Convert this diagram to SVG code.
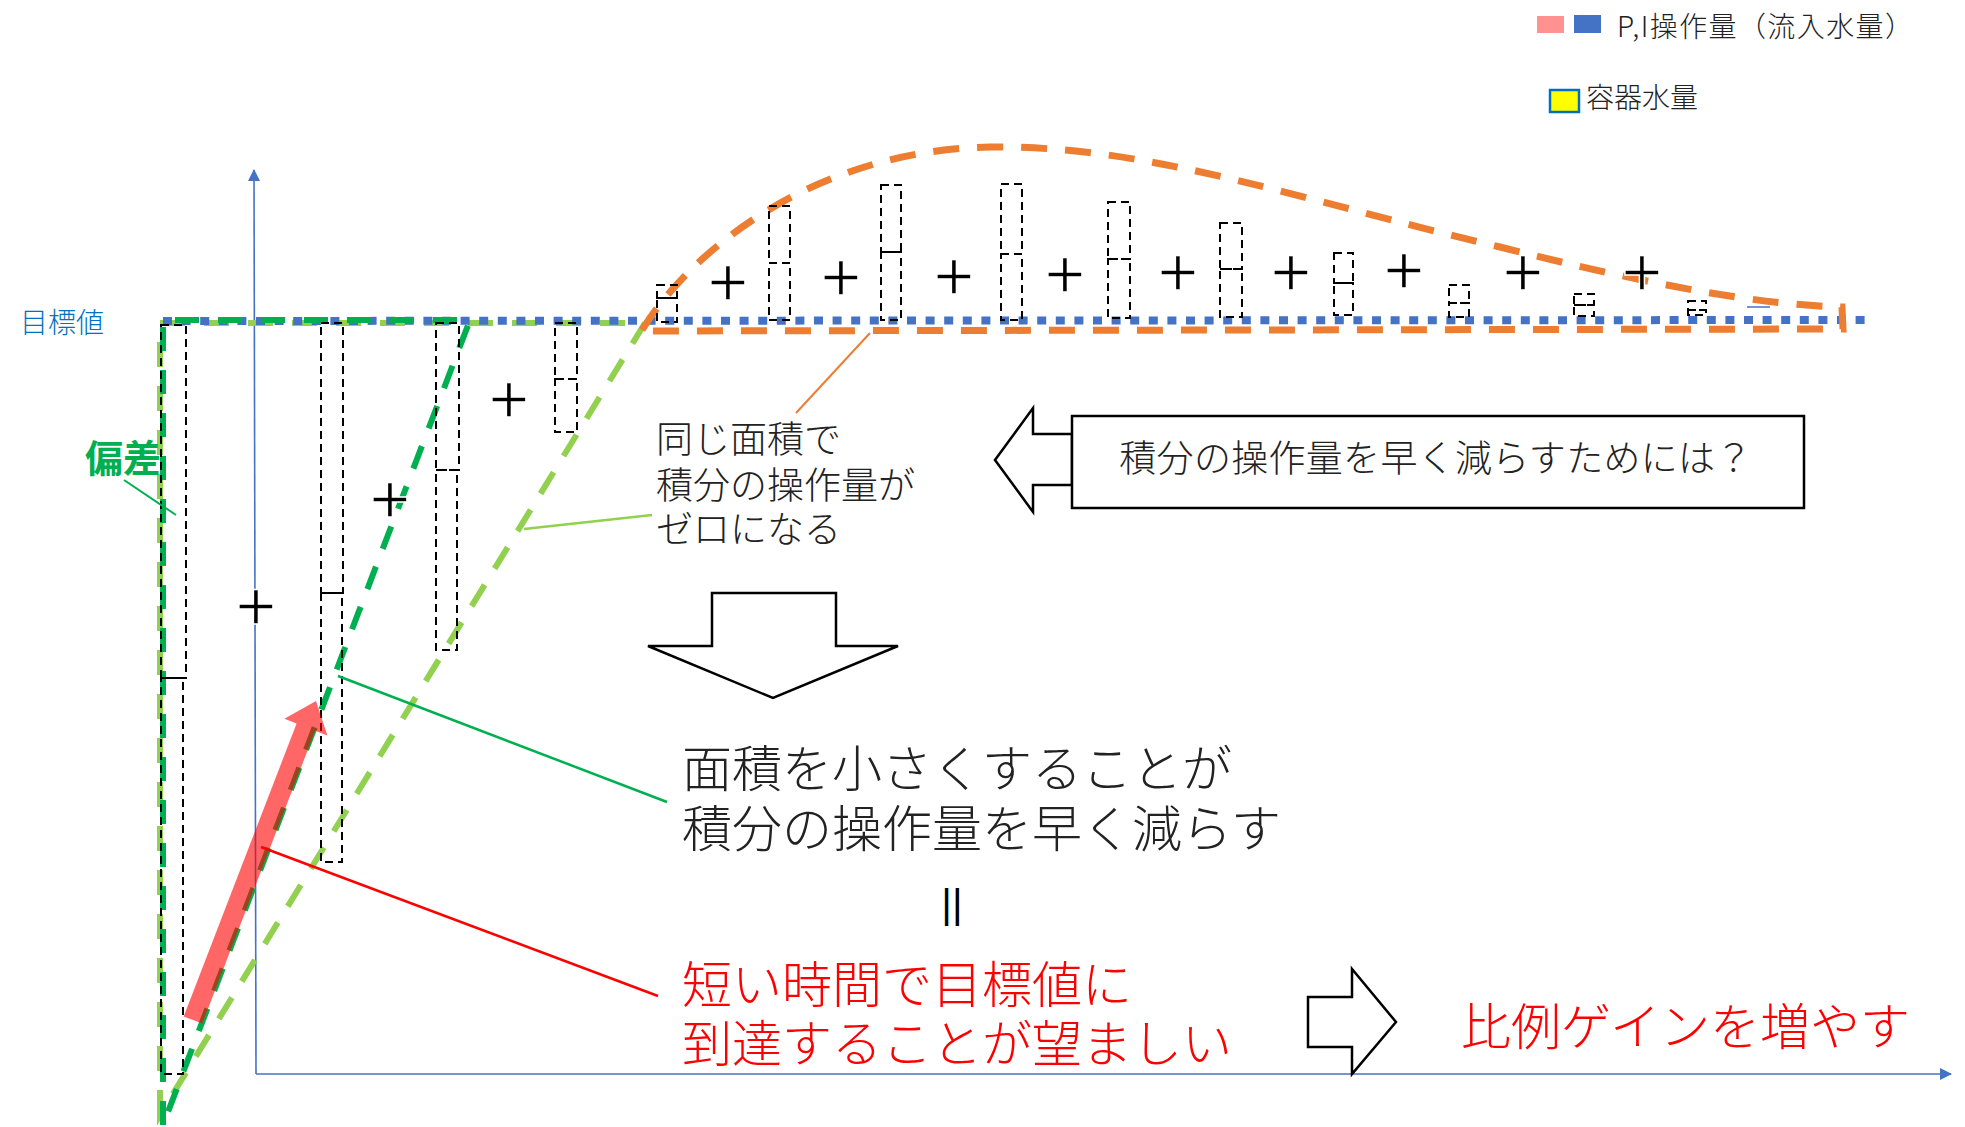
<svg xmlns="http://www.w3.org/2000/svg" width="1965" height="1127" viewBox="0 0 1965 1127">
<style>
.jp{font-family:"Noto Sans CJK JP","Noto Sans CJK SC",sans-serif;font-weight:300;}
.plus{font-family:"Liberation Sans",Arial,sans-serif;font-size:70px;fill:#000;stroke:#fff;stroke-width:1.4px;text-anchor:middle;}
.bar{fill:none;stroke:#000;stroke-width:2;stroke-dasharray:8 5;}
.ax{stroke:#4472C4;stroke-width:1.6;fill:none;}
.hollow{fill:#fff;stroke:#000;stroke-width:2.5;stroke-linejoin:miter;}
</style>
<defs>
<marker id="axhead" viewBox="0 0 12 12" refX="11" refY="6" markerWidth="12" markerHeight="12" markerUnits="userSpaceOnUse" orient="auto">
<path d="M0,0 L12,6 L0,12 Z" fill="#4472C4"/>
</marker>
</defs>
<rect width="1965" height="1127" fill="#fff"/>

<g id="legend">
<rect x="1537" y="16" width="27" height="17" fill="#FF9191"/>
<rect x="1574" y="15" width="27" height="18" fill="#4472C4"/>
<text class="jp" x="1617" y="37" font-size="28" letter-spacing="1.4" fill="#222">P,I操作量（流入水量）</text>
<rect x="1550" y="90" width="29" height="22" fill="#FFFF00" stroke="#0070C0" stroke-width="2.5"/>
<text class="jp" x="1586" y="108" font-size="28" fill="#222">容器水量</text>
</g>

<g id="axes">
<line class="ax" x1="256" y1="1074" x2="254" y2="170" marker-end="url(#axhead)"/>
<line class="ax" x1="256" y1="1074" x2="1951" y2="1074" marker-end="url(#axhead)"/>
</g>

<g id="areas">
<polygon id="container-level" points="160,1115 160,323 645,323" fill="none" stroke="#92D050" stroke-width="6" stroke-dasharray="25 19"/>
<line id="target-line" x1="163" y1="321" x2="1868" y2="320" stroke="#4472C4" stroke-width="8" stroke-dasharray="9 9.6"/>
<polygon id="deviation" points="163,1125 163,320 470,320" fill="none" stroke="#00B050" stroke-width="6" stroke-dasharray="24 19"/>
<path id="overshoot" d="M642,330 C695,245 820,150 990,147 C1150,145 1300,200 1500,247 C1650,285 1760,305 1842,307 L1843,329 L642,331 Z" fill="none" stroke="#ED7D31" stroke-width="7" stroke-dasharray="26 18"/>
<line x1="1747" y1="307" x2="1770" y2="307" stroke="#4472C4" stroke-width="1.5"/>
</g>

<g id="bars">
<rect class="bar" x="161" y="325" width="25" height="353"/><rect class="bar" x="161" y="678" width="22" height="396"/>
<rect class="bar" x="321" y="323" width="22" height="270"/><rect class="bar" x="321" y="593" width="21" height="269"/>
<rect class="bar" x="436" y="323" width="23" height="147"/><rect class="bar" x="436" y="470" width="21" height="180"/>
<rect class="bar" x="555" y="323" width="22" height="56"/><rect class="bar" x="555" y="379" width="22" height="53"/>
<rect class="bar" x="657" y="285" width="20" height="13"/><rect class="bar" x="657" y="298" width="20" height="24"/>
<rect class="bar" x="769" y="206" width="21" height="57"/><rect class="bar" x="769" y="263" width="21" height="57"/>
<rect class="bar" x="881" y="185" width="20" height="67"/><rect class="bar" x="881" y="252" width="20" height="68"/>
<rect class="bar" x="1001" y="184" width="21" height="70"/><rect class="bar" x="1001" y="254" width="21" height="66"/>
<rect class="bar" x="1108" y="202" width="22" height="57"/><rect class="bar" x="1108" y="259" width="22" height="59"/>
<rect class="bar" x="1220" y="223" width="22" height="46"/><rect class="bar" x="1220" y="269" width="22" height="48"/>
<rect class="bar" x="1334" y="253" width="19" height="30"/><rect class="bar" x="1334" y="283" width="19" height="32"/>
<rect class="bar" x="1449" y="285" width="20" height="18"/><rect class="bar" x="1449" y="303" width="20" height="14"/>
<rect class="bar" x="1574" y="294" width="20" height="11"/><rect class="bar" x="1574" y="305" width="20" height="11"/>
<rect class="bar" x="1688" y="301" width="18" height="9"/><rect class="bar" x="1688" y="310" width="18" height="5"/>
</g>

<g id="plus-signs">
<text class="plus" x="256" y="630">+</text>
<text class="plus" x="390" y="523">+</text>
<text class="plus" x="509" y="423">+</text>
<text class="plus" x="728" y="306">+</text>
<text class="plus" x="841" y="301">+</text>
<text class="plus" x="954" y="300">+</text>
<text class="plus" x="1065" y="298">+</text>
<text class="plus" x="1178" y="296">+</text>
<text class="plus" x="1291" y="296">+</text>
<text class="plus" x="1404" y="294">+</text>
<text class="plus" x="1523" y="296">+</text>
<text class="plus" x="1642" y="296">+</text>
</g>

<g id="red-arrow">
<polygon points="202.3,1023.6 315.2,730.7 327.4,735.4 316,701 284.4,718.8 296.6,723.5 183.7,1016.4" fill="#FF0000" fill-opacity="0.6"/>
</g>

<g id="connectors">
<line x1="124" y1="480" x2="176" y2="515" stroke="#00B050" stroke-width="2"/>
<line x1="796" y1="413" x2="870" y2="333" stroke="#ED7D31" stroke-width="2"/>
<line x1="524" y1="529" x2="652" y2="515" stroke="#92D050" stroke-width="2.5"/>
<line x1="338" y1="676" x2="667" y2="802" stroke="#00B050" stroke-width="2.5"/>
<line x1="261" y1="847" x2="658" y2="996" stroke="#FF0000" stroke-width="2.5"/>
</g>

<g id="label-target">
<text class="jp" x="20" y="333" font-size="28" fill="#0070C0">目標値</text>
</g>
<g id="label-deviation">
<text x="85" y="472" font-size="38" font-weight="bold" fill="#00B050" font-family="Noto Sans CJK JP, Noto Sans CJK SC, sans-serif">偏差</text>
</g>
<g id="label-same-area">
<text class="jp" font-size="37" fill="#222"><tspan x="656" y="453">同じ面積で</tspan><tspan x="656" y="499">積分の操作量が</tspan><tspan x="656" y="543">ゼロになる</tspan></text>
</g>

<g id="question-box">
<polygon class="hollow" points="1072,434 1033,434 1033,408 995,460 1033,512 1033,485 1072,485"/>
<rect x="1072" y="416" width="732" height="92" fill="#fff" stroke="#000" stroke-width="2.5"/>
<text class="jp" x="1436" y="472" font-size="37" letter-spacing="0.3" fill="#222" text-anchor="middle">積分の操作量を早く減らすためには？</text>
</g>

<g id="down-arrow">
<polygon class="hollow" points="712,593 836,593 836,646 898,646 773,698 648,646 712,646"/>
</g>

<g id="conclusion">
<text class="jp" font-size="50" fill="#222"><tspan x="682" y="787">面積を小さくすることが</tspan><tspan x="682" y="847">積分の操作量を早く減らす</tspan></text>
<text x="952" y="918" font-size="41" fill="#000" text-anchor="middle" font-family="Liberation Sans, Arial, sans-serif">||</text>
<text class="jp" font-size="50" fill="#FF0000"><tspan x="682" y="1003">短い時間で目標値に</tspan><tspan x="682" y="1062">到達することが望ましい</tspan></text>
</g>

<g id="right-arrow">
<polygon class="hollow" points="1308,997 1352,997 1352,969 1396,1022 1352,1074 1352,1047 1308,1047"/>
</g>
<g id="label-gain">
<text class="jp" x="1461" y="1045" font-size="50" fill="#FF0000">比例ゲインを増やす</text>
</g>
</svg>
